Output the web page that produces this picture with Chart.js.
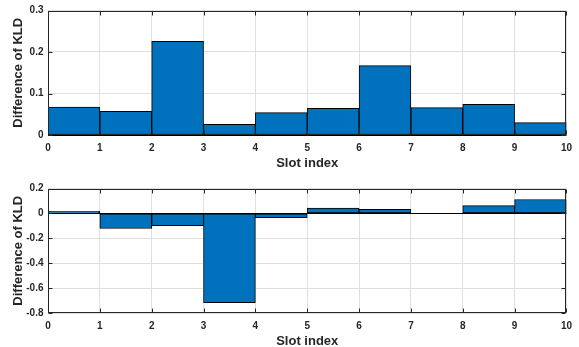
<!DOCTYPE html>
<html>
<head>
<meta charset="utf-8">
<script src="https://cdn.jsdelivr.net/npm/chart.js@4"></script>
<style>
  html, body { margin: 0; padding: 0; background: #fff; overflow: hidden; width: 579px; height: 347px; }
  canvas { position: absolute; left: 0; }
  #klTop { top: 0; }
  #klBottom { top: 178px; }
</style>
</head>
<body>
<canvas id="klTop" width="579" height="170"></canvas>
<canvas id="klBottom" width="579" height="170"></canvas>
<script>
// Slot bins: each bar covers [slot, slot + 1]
const slots = [0, 1, 2, 3, 4, 5, 6, 7, 8, 9];
const xTicks = [0, 1, 2, 3, 4, 5, 6, 7, 8, 9, 10];

// Difference of KLD per slot
const klDiffTop = [0.067, 0.057, 0.226, 0.026, 0.054, 0.064, 0.167, 0.066, 0.074, 0.030];
const klDiffBottom = [0.016, -0.121, -0.098, -0.718, -0.035, 0.042, 0.032, 0.0, 0.063, 0.112];

// Y tick labels
const yTicksTop = [0, 0.1, 0.2, 0.3];
const yTicksBottom = [-0.8, -0.6, -0.4, -0.2, 0, 0.2];

const AXIS_COLOR = '#262626';
const GRID_COLOR = '#dfdfdf';
const BAR_COLOR = '#0072BD';

Chart.defaults.font.family = '"Liberation Sans", Arial, Helvetica, sans-serif';

// Axes box with inward tick marks on all four sides
const axesBox = {
  id: 'axesBox',
  afterDraw(chart) {
    const { ctx, chartArea: a, scales: { x, y } } = chart;
    const L = Math.round(a.left) + 0.5;
    const R = Math.round(a.right) - 0.5;
    const T = Math.round(a.top) + 0.5;
    const B = Math.round(a.bottom) - 0.5;
    const len = 4;
    ctx.save();
    ctx.strokeStyle = AXIS_COLOR;
    ctx.lineWidth = 1;
    ctx.beginPath();
    x.ticks.forEach(t => {
      const px = Math.round(x.getPixelForValue(t.value)) + 0.5;
      ctx.moveTo(px, B); ctx.lineTo(px, B - len);
      ctx.moveTo(px, T); ctx.lineTo(px, T + len);
    });
    y.ticks.forEach(t => {
      const py = Math.round(y.getPixelForValue(t.value)) + 0.5;
      ctx.moveTo(L, py); ctx.lineTo(L + len, py);
      ctx.moveTo(R, py); ctx.lineTo(R - len, py);
    });
    ctx.stroke();
    ctx.strokeRect(L, T, R - L, B - T);
    ctx.restore();
  }
};

function makeKldChart(id, values, yTicks) {
  return new Chart(document.getElementById(id), {
    type: 'bar',
    data: {
      datasets: [{
        data: slots.map((s, i) => ({ x: s + 0.5, y: values[i] })),
        backgroundColor: BAR_COLOR,
        borderColor: '#000000',
        borderWidth: 1,
        borderSkipped: false,
        barPercentage: 1,
        categoryPercentage: 1
      }]
    },
    options: {
      responsive: false,
      animation: false,
      devicePixelRatio: 1,
      layout: { padding: { top: 10, right: 12, bottom: 0, left: 0 } },
      plugins: { legend: { display: false }, tooltip: { enabled: false } },
      scales: {
        x: {
          type: 'linear',
          min: xTicks[0],
          max: xTicks[xTicks.length - 1],
          offset: false,
          afterBuildTicks: s => { s.ticks = xTicks.map(v => ({ value: v })); },
          afterFit: s => { s.height = 35; },
          ticks: {
            padding: 7,
            autoSkip: false,
            maxRotation: 0,
            color: AXIS_COLOR,
            font: { size: 10, weight: 'bold' },
            callback: v => String(v)
          },
          grid: { color: GRID_COLOR, drawTicks: false, offset: false },
          border: { display: false },
          title: {
            display: true,
            text: 'Slot index',
            color: AXIS_COLOR,
            font: { size: 13, weight: 'bold', lineHeight: 1 },
            padding: 0
          }
        },
        y: {
          min: yTicks[0],
          max: yTicks[yTicks.length - 1],
          afterBuildTicks: s => { s.ticks = yTicks.map(v => ({ value: v })); },
          afterFit: s => { s.width = 48; },
          ticks: {
            padding: 4.5,
            color: AXIS_COLOR,
            font: { size: 10, weight: 'bold' },
            callback: v => String(v)
          },
          grid: {
            drawTicks: false,
            color: c => (c.tick && c.tick.value === 0 ? '#000000' : GRID_COLOR)
          },
          border: { display: false },
          title: {
            display: true,
            text: 'Difference of KLD',
            color: AXIS_COLOR,
            font: { size: 13, weight: 'bold', lineHeight: 1 },
            padding: { top: 12, bottom: 0 }
          }
        }
      }
    },
    plugins: [axesBox]
  });
}

makeKldChart('klTop', klDiffTop, yTicksTop);
makeKldChart('klBottom', klDiffBottom, yTicksBottom);
</script>
</body>
</html>
